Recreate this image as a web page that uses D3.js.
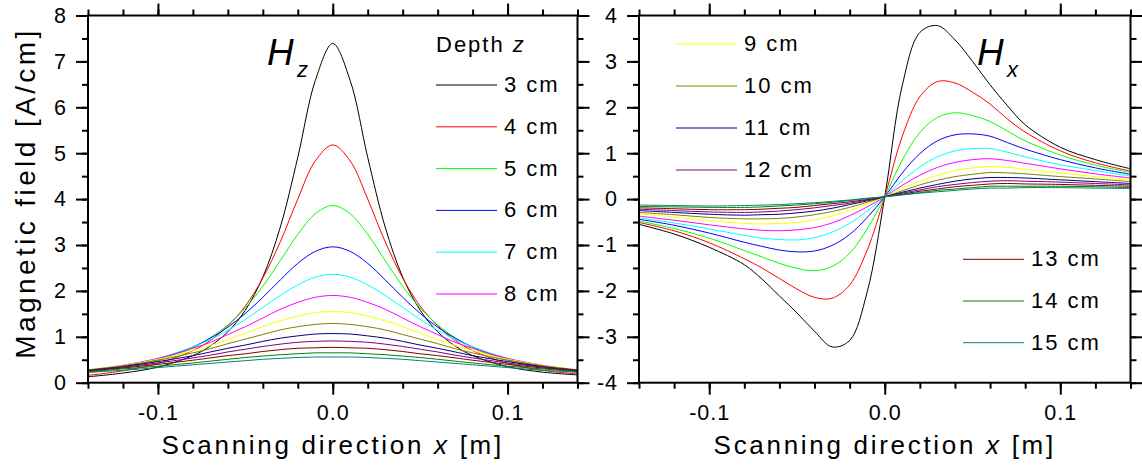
<!DOCTYPE html>
<html><head><meta charset="utf-8">
<script src="https://cdn.jsdelivr.net/npm/d3@7"></script>
<style>
body{margin:0;background:#fff}
svg{display:block}
text{font-family:Arial,"Liberation Sans",sans-serif;fill:#000}
</style>
</head><body>
<svg id="c" width="1142" height="466"></svg>
<script>
// ---------------- data ----------------
const xValues = [-0.14,-0.12,-0.10,-0.08,-0.07,-0.06,-0.05,-0.04,-0.03,-0.02,-0.01,0,0.01,0.02,0.03,0.04,0.05,0.06,0.07,0.08,0.10,0.12,0.14];
const depthLabels = ["3 cm","4 cm","5 cm","6 cm","7 cm","8 cm","9 cm","10 cm","11 cm","12 cm","13 cm","14 cm","15 cm"];
const xMajorTicks = [-0.1, 0, 0.1];
const hzTicks = [0,1,2,3,4,5,6,7,8];
const hxTicks = [-4,-3,-2,-1,0,1,2,3,4];

const hzValues = [
  [0.13,0.21,0.34,0.59,0.80,1.11,1.58,2.30,3.39,4.91,6.58,7.39,6.58,4.91,3.39,2.30,1.58,1.11,0.80,0.59,0.35,0.23,0.17],
  [0.16,0.26,0.42,0.70,0.92,1.24,1.67,2.28,3.07,4.00,4.83,5.18,4.83,4.00,3.07,2.28,1.67,1.24,0.92,0.70,0.42,0.27,0.19],
  [0.21,0.32,0.48,0.76,0.98,1.26,1.63,2.10,2.66,3.23,3.68,3.86,3.68,3.23,2.66,2.10,1.63,1.26,0.98,0.76,0.48,0.32,0.22],
  [0.24,0.35,0.51,0.78,0.97,1.21,1.51,1.86,2.24,2.60,2.86,2.96,2.86,2.60,2.24,1.86,1.51,1.21,0.97,0.78,0.51,0.35,0.24],
  [0.26,0.37,0.53,0.78,0.94,1.14,1.38,1.64,1.90,2.13,2.30,2.36,2.30,2.13,1.90,1.64,1.38,1.14,0.94,0.78,0.53,0.37,0.26],
  [0.27,0.38,0.53,0.75,0.88,1.05,1.22,1.41,1.60,1.75,1.86,1.90,1.86,1.75,1.60,1.41,1.22,1.05,0.88,0.75,0.53,0.38,0.27],
  [0.28,0.38,0.51,0.70,0.81,0.94,1.08,1.22,1.35,1.45,1.53,1.55,1.53,1.45,1.35,1.22,1.08,0.94,0.81,0.70,0.51,0.38,0.28],
  [0.28,0.37,0.49,0.65,0.74,0.85,0.95,1.05,1.15,1.22,1.27,1.29,1.27,1.22,1.15,1.05,0.95,0.85,0.74,0.65,0.49,0.37,0.28],
  [0.27,0.35,0.46,0.59,0.67,0.75,0.82,0.90,0.97,1.02,1.06,1.07,1.06,1.02,0.97,0.90,0.82,0.75,0.67,0.59,0.46,0.35,0.27],
  [0.27,0.34,0.43,0.54,0.60,0.67,0.73,0.79,0.84,0.88,0.90,0.91,0.90,0.88,0.84,0.79,0.73,0.67,0.60,0.54,0.43,0.34,0.27],
  [0.26,0.32,0.40,0.49,0.54,0.59,0.63,0.68,0.72,0.75,0.76,0.77,0.76,0.75,0.72,0.68,0.63,0.59,0.54,0.49,0.40,0.32,0.26],
  [0.24,0.30,0.36,0.43,0.47,0.51,0.55,0.58,0.61,0.63,0.65,0.65,0.65,0.63,0.61,0.58,0.55,0.51,0.47,0.43,0.36,0.30,0.24],
  [0.23,0.27,0.33,0.39,0.42,0.45,0.48,0.51,0.53,0.55,0.56,0.56,0.56,0.55,0.53,0.51,0.48,0.45,0.42,0.39,0.33,0.27,0.23]
];

const hxValues = [
  [-0.55,-0.76,-1.05,-1.43,-1.74,-2.11,-2.48,-2.88,-3.22,-3.08,-2.02,0.05,2.48,3.63,3.78,3.47,3.00,2.49,2.03,1.62,1.13,0.86,0.66],
  [-0.51,-0.69,-0.95,-1.30,-1.50,-1.73,-1.96,-2.14,-2.16,-1.87,-1.11,0.05,1.37,2.23,2.56,2.53,2.33,2.07,1.74,1.46,1.05,0.79,0.61],
  [-0.48,-0.64,-0.85,-1.12,-1.26,-1.40,-1.51,-1.56,-1.47,-1.18,-0.65,0.05,0.85,1.45,1.78,1.88,1.82,1.69,1.48,1.27,0.96,0.74,0.58],
  [-0.44,-0.57,-0.74,-0.94,-1.03,-1.11,-1.15,-1.13,-1.01,-0.77,-0.40,0.05,0.57,0.99,1.27,1.40,1.42,1.37,1.23,1.09,0.86,0.68,0.54],
  [-0.41,-0.52,-0.65,-0.79,-0.85,-0.88,-0.89,-0.84,-0.72,-0.53,-0.26,0.05,0.40,0.70,0.92,1.05,1.10,1.10,1.02,0.92,0.75,0.62,0.50],
  [-0.37,-0.46,-0.56,-0.65,-0.68,-0.69,-0.67,-0.62,-0.52,-0.36,-0.17,0.05,0.30,0.52,0.69,0.80,0.86,0.88,0.84,0.78,0.66,0.55,0.46],
  [-0.32,-0.39,-0.47,-0.53,-0.54,-0.53,-0.51,-0.45,-0.37,-0.25,-0.11,0.05,0.23,0.39,0.52,0.62,0.68,0.71,0.69,0.65,0.57,0.49,0.42],
  [-0.29,-0.34,-0.40,-0.43,-0.43,-0.42,-0.39,-0.34,-0.27,-0.18,-0.07,0.05,0.18,0.31,0.41,0.49,0.54,0.58,0.57,0.55,0.49,0.44,0.38],
  [-0.25,-0.29,-0.33,-0.35,-0.34,-0.33,-0.30,-0.26,-0.20,-0.12,-0.04,0.05,0.15,0.24,0.32,0.39,0.44,0.47,0.47,0.46,0.42,0.38,0.34],
  [-0.22,-0.25,-0.28,-0.29,-0.28,-0.26,-0.23,-0.19,-0.14,-0.09,-0.02,0.05,0.13,0.20,0.27,0.32,0.36,0.39,0.40,0.39,0.37,0.34,0.31],
  [-0.19,-0.21,-0.23,-0.23,-0.22,-0.20,-0.18,-0.14,-0.10,-0.06,-0.01,0.05,0.11,0.17,0.22,0.27,0.30,0.33,0.34,0.33,0.32,0.30,0.28],
  [-0.16,-0.17,-0.18,-0.18,-0.17,-0.15,-0.13,-0.10,-0.07,-0.03,0.01,0.05,0.10,0.14,0.19,0.22,0.25,0.28,0.28,0.28,0.28,0.27,0.25],
  [-0.13,-0.14,-0.15,-0.14,-0.13,-0.12,-0.10,-0.08,-0.05,-0.02,0.02,0.05,0.09,0.13,0.16,0.19,0.22,0.24,0.24,0.25,0.25,0.24,0.23]
];

// ---------------- styles ----------------
const colors = ["#000000","#ff0000","#00ff00","#0000ff","#00ffff","#ff00ff","#ffff00","#808000","#000080","#800080","#800000","#008000","#008080"];

const svg = d3.select("#c");
const fmtX = d => (d === 0 ? "0.0" : d3.format(".1f")(d).replace("\u2212","-"));
const fmtY = d => String(d).replace("\u2212","-");

function panel(opts) {
  const x = d3.scaleLinear().domain([-0.14, 0.14]).range([opts.left, opts.right]);
  const y = d3.scaleLinear().domain(opts.ydom).range([382.7, 15.5]);
  const g = svg.append("g");

  const clipId = "clip" + opts.id;
  svg.append("clipPath").attr("id", clipId).append("rect")
    .attr("x", opts.left).attr("y", 15.5).attr("width", opts.right - opts.left).attr("height", 382.7 - 15.5);

  const line = d3.line().x((d, i) => x(xValues[i])).y(d => y(d)).curve(d3.curveCatmullRom.alpha(0.5));
  const cg = g.append("g").attr("clip-path", `url(#${clipId})`);
  opts.values.forEach((row, k) => {
    cg.append("path").attr("d", line(row)).attr("fill", "none")
      .attr("stroke", colors[k]).attr("stroke-width", 1);
  });

  const minorX = d3.range(-14, 15, 2).map(d => d / 100);
  const yMin = opts.ydom[0], yMax = opts.ydom[1];
  const minorY = d3.range(yMin * 2, yMax * 2 + 1).map(d => d / 2);

  function styleAxis(sel) {
    sel.select(".domain").remove();
    sel.selectAll(".tick line").attr("stroke", "#000").attr("stroke-width", 2);
    sel.selectAll("text").attr("font-size", 21.5).attr("letter-spacing", 1)
      .attr("font-family", "Arial, 'Liberation Sans', sans-serif").attr("fill", "#000");
  }

  // bottom
  g.append("g").attr("transform", "translate(0,382.7)")
    .call(d3.axisBottom(x).tickValues(minorX).tickSize(6).tickFormat("")).call(styleAxis);
  g.append("g").attr("transform", "translate(0,382.7)")
    .call(d3.axisBottom(x).tickValues(xMajorTicks).tickSize(12).tickPadding(10).tickFormat(fmtX)).call(styleAxis);
  // top
  g.append("g").attr("transform", "translate(0,15.5)")
    .call(d3.axisTop(x).tickValues(minorX).tickSize(6).tickFormat("")).call(styleAxis);
  g.append("g").attr("transform", "translate(0,15.5)")
    .call(d3.axisTop(x).tickValues(xMajorTicks).tickSize(12).tickFormat("")).call(styleAxis);
  // left
  g.append("g").attr("transform", `translate(${opts.left},0)`)
    .call(d3.axisLeft(y).tickValues(minorY).tickSize(6).tickFormat("")).call(styleAxis);
  g.append("g").attr("transform", `translate(${opts.left},0)`)
    .call(d3.axisLeft(y).tickValues(opts.yticks).tickSize(12).tickPadding(9).tickFormat(fmtY)).call(styleAxis);
  // right
  g.append("g").attr("transform", `translate(${opts.right},0)`)
    .call(d3.axisRight(y).tickValues(minorY).tickSize(6).tickFormat("")).call(styleAxis);
  g.append("g").attr("transform", `translate(${opts.right},0)`)
    .call(d3.axisRight(y).tickValues(opts.yticks).tickSize(12).tickFormat("")).call(styleAxis);

  // frame
  g.append("rect").attr("x", opts.left).attr("y", 15.5)
    .attr("width", opts.right - opts.left).attr("height", 382.7 - 15.5)
    .attr("fill", "none").attr("stroke", "#000").attr("stroke-width", 2);

  // x title
  const t = g.append("text").attr("x", (opts.left + opts.right) / 2).attr("y", 454)
    .attr("text-anchor", "middle").attr("font-size", 26).attr("letter-spacing", 2.7);
  t.append("tspan").text("Scanning direction ");
  t.append("tspan").attr("font-style", "italic").text("x");
  t.append("tspan").text(" [m]");

  // big label
  g.append("text").attr("x", opts.hx).attr("y", 65).attr("font-size", 37)
    .attr("font-style", "italic").text("H");
  g.append("text").attr("x", opts.hx + 30).attr("y", 77).attr("font-size", 22)
    .attr("font-style", "italic").text(opts.sub);

  return g;
}

panel({id: 1, left: 88, right: 577.5, ydom: [0, 8], yticks: hzTicks, values: hzValues, hx: 267, sub: "z"});
panel({id: 2, left: 639, right: 1130.5, ydom: [-4, 4], yticks: hxTicks, values: hxValues, hx: 977, sub: "x"});

// y title
svg.append("text").attr("transform", "translate(35,193) rotate(-90)")
  .attr("text-anchor", "middle").attr("font-size", 28).attr("letter-spacing", 3.4)
  .text("Magnetic field [A/cm]");

// legends
function legendRows(idxs, lx, ly, step) {
  idxs.forEach((k, i) => {
    const yy = ly + i * step;
    svg.append("line").attr("x1", lx).attr("x2", lx + 61).attr("y1", yy).attr("y2", yy)
      .attr("stroke", colors[k]).attr("stroke-width", 1);
    svg.append("text").attr("x", lx + 68).attr("y", yy + 7).attr("font-size", 22)
      .attr("letter-spacing", 2).text(depthLabels[k]);
  });
}
const lt = svg.append("text").attr("x", 436).attr("y", 52).attr("font-size", 22).attr("letter-spacing", 2);
lt.append("tspan").text("Depth ");
lt.append("tspan").attr("font-style", "italic").text("z");
legendRows([0,1,2,3,4,5], 436, 85, 41.8);
legendRows([6,7,8,9], 676, 44, 42);
legendRows([10,11,12], 963, 259.3, 41.7);
</script>
</body></html>
